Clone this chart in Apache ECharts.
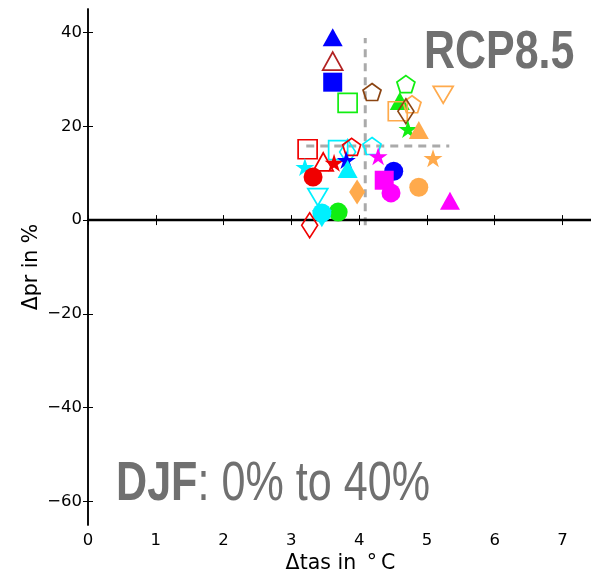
<!DOCTYPE html>
<html>
<head>
<meta charset="utf-8">
<script src="https://cdn.jsdelivr.net/npm/echarts@6/dist/echarts.min.js"></script>
<style>
  html, body { margin: 0; padding: 0; background: #fff; }
  #chart { width: 591px; height: 575px; }
</style>
</head>
<body>
<div id="chart"></div>
<script>
// model values (delta tas in degC, delta pr in %)
var tas = [3.61, 3.61, 3.61, 3.83, 4.19, 4.69, 5.24, 4.60, 4.57, 4.78, 4.69, 4.72, 4.88,
           3.24, 3.69, 3.83, 3.89, 4.19, 3.20, 3.47, 3.63, 3.81, 3.83, 3.32, 3.97, 3.39,
           3.69, 3.45, 3.45, 3.27, 4.28, 4.51, 4.37, 4.47, 4.88, 5.09, 5.34];
var pr = [39.0, 33.9, 29.4, 25.0, 27.3, 29.0, 26.7, 25.4, 23.2, 24.7, 23.2, 19.4, 19.2,
          15.1, 14.9, 14.5, 15.6, 15.8, 11.3, 12.4, 12.2, 12.8, 10.9, 9.2, 6.0, 4.9,
          1.7, 0.3, 1.5, -1.1, 13.6, 10.4, 8.5, 5.8, 7.0, 13.2, 4.1];
// marker style for each model
var shapes = ['tri', 'tri', 'sq', 'sq', 'pent', 'pent', 'tdown', 'tri', 'sq', 'pent', 'dia', 'star', 'tri',
              'sq', 'sq', 'dia', 'pent', 'pent', 'star', 'tri', 'star', 'star', 'tri', 'circle', 'dia', 'tdown',
              'circle', 'tdown', 'circle', 'dia', 'star', 'circle', 'sq', 'circle', 'circle', 'star', 'tri'];
var colors = ['blue', 'firebrick', 'blue', 'green', 'brown', 'green', 'orange', 'green', 'orange', 'orange', 'brown', 'green', 'orange',
              'red', 'cyan', 'cyan', 'red', 'cyan', 'cyan', 'red', 'red', 'blue', 'cyan', 'red', 'orange', 'cyan',
              'green', 'cyan', 'cyan', 'red', 'magenta', 'blue', 'magenta', 'magenta', 'orange', 'orange', 'magenta'];
var filled = [1, 0, 1, 0, 0, 0, 0, 1, 0, 0, 0, 1, 1,
              0, 0, 0, 0, 0, 1, 0, 1, 1, 1, 1, 1, 0,
              1, 1, 1, 0, 1, 1, 1, 1, 1, 1, 1];
// ensemble crosshair: [x, yLow, yHigh] and [y, xLow, xHigh]
var vLine = [4.09, -1.1, 38.8];
var hLine = [15.8, 3.22, 5.33];

var xTicks = [0, 1, 2, 3, 4, 5, 6, 7];
var yTicks = [-60, -40, -20, 0, 20, 40];
var xMax = 7.45;

var palette = {
  blue: '#0000ff', firebrick: '#b22222', green: '#11ee11', brown: '#8b4513',
  orange: '#ffaa4c', red: '#f00000', cyan: '#00f0ff', magenta: '#ff00ff'
};
var symbolOf = {
  tri: 'triangle',
  tdown: 'path://M-1 -1 L1 -1 L0 1 Z',
  sq: 'rect',
  circle: 'circle',
  dia: 'diamond',
  pent: 'path://M0 -1 L0.951 -0.309 L0.588 0.809 L-0.588 0.809 L-0.951 -0.309 Z',
  star: 'path://M0 -1 L0.2234 -0.3074 L0.951 -0.309 L0.3614 0.1174 L0.588 0.809 L0 0.38 L-0.588 0.809 L-0.3614 0.1174 L-0.951 -0.309 L-0.2234 -0.3074 Z'
};
var sizeOf = {
  tri: [20, 18], tdown: [20, 17], sq: [19, 19], circle: [19, 19],
  dia: [16, 25], pent: [18, 17], star: [19, 18]
};

var points = [];
for (var i = 0; i < tas.length; i++) {
  var c = palette[colors[i]];
  points.push({
    value: [tas[i], pr[i]],
    symbol: symbolOf[shapes[i]],
    symbolSize: sizeOf[shapes[i]],
    itemStyle: filled[i]
      ? { color: c, borderWidth: 0, opacity: 1 }
      : { color: 'rgba(0,0,0,0)', borderColor: c, borderWidth: 1.7, opacity: 1 }
  });
}

var tickFont = { fontFamily: 'DejaVu Sans', fontSize: 16.5, color: '#000' };
var nameFont = { fontFamily: 'DejaVu Sans', fontSize: 20.5, color: '#000' };
function minus(v) { return String(v).replace('-', '\u2212'); }

var chart = echarts.init(document.getElementById('chart'));
chart.setOption({
  animation: false,
  backgroundColor: '#fff',
  grid: { left: 88, top: 9, width: 505, height: 516, outerBoundsMode: 'none', containLabel: false },
  xAxis: [{
    type: 'value', min: 0, max: xMax, position: 'bottom',
    name: 'Δtas in \u2009°\u2009C', nameLocation: 'middle', nameGap: 28, nameMoveOverlap: false,
    nameTextStyle: nameFont,
    axisLine: { lineStyle: { color: '#000', width: 1.5 } },
    axisTick: { inside: true, length: 5, customValues: xTicks, lineStyle: { color: '#000' } },
    axisLabel: Object.assign({ margin: 7, customValues: xTicks }, tickFont),
    splitLine: { show: false }
  }, {
    type: 'value', min: 0, max: xMax, position: 'top',
    axisLine: { lineStyle: { color: '#000', width: 1.5 } },
    axisTick: { inside: true, length: 5, customValues: xTicks, lineStyle: { color: '#000' } },
    axisLabel: { show: false },
    splitLine: { show: false }
  }],
  yAxis: [{
    type: 'value', min: -65, max: 45, position: 'left',
    name: 'Δpr in %', nameLocation: 'middle', nameGap: 46, nameMoveOverlap: false,
    nameTextStyle: nameFont,
    axisLine: { lineStyle: { color: '#000', width: 1.5 } },
    axisTick: { inside: true, length: 5, customValues: yTicks, lineStyle: { color: '#000' } },
    axisLabel: Object.assign({ margin: 6, customValues: yTicks, formatter: minus }, tickFont),
    splitLine: { show: false }
  }, {
    type: 'value', min: -65, max: 45, position: 'right',
    axisLine: { lineStyle: { color: '#000', width: 1.5 } },
    axisTick: { inside: true, length: 5, customValues: yTicks, lineStyle: { color: '#000' } },
    axisLabel: { show: false },
    splitLine: { show: false }
  }],
  graphic: [{
    type: 'text', x: 424, y: 27, scaleX: 0.81, z: 10,
    style: {
      text: 'RCP8.5', fill: '#707070', verticalAlign: 'top',
      font: 'bold 53px "Liberation Sans", Arial, sans-serif'
    }
  }, {
    type: 'text', x: 116, y: 457, scaleX: 0.77, z: 10,
    style: {
      text: '{b|DJF}{n|: 0% to 40%}', verticalAlign: 'top',
      rich: {
        b: { fill: '#707070', fontWeight: 'bold', fontSize: 56, fontFamily: 'Liberation Sans' },
        n: { fill: '#707070', fontSize: 56, fontFamily: 'Liberation Sans' }
      }
    }
  }],
  series: [{
    type: 'line', silent: true, symbol: 'none', z: 1,
    data: [[vLine[0], vLine[1]], [vLine[0], vLine[2]]],
    lineStyle: { color: '#aaaaaa', width: 3, type: [8, 6] }
  }, {
    type: 'line', silent: true, symbol: 'none', z: 1,
    data: [[hLine[1], hLine[0]], [hLine[2], hLine[0]]],
    lineStyle: { color: '#aaaaaa', width: 3, type: [8, 6] }
  }, {
    type: 'line', silent: true, symbol: 'none', z: 2,
    data: [[0, 0], [xMax, 0]],
    lineStyle: { color: '#000', width: 2.5 }
  }, {
    type: 'scatter', silent: true, z: 3,
    data: points
  }]
});
</script>
</body>
</html>
